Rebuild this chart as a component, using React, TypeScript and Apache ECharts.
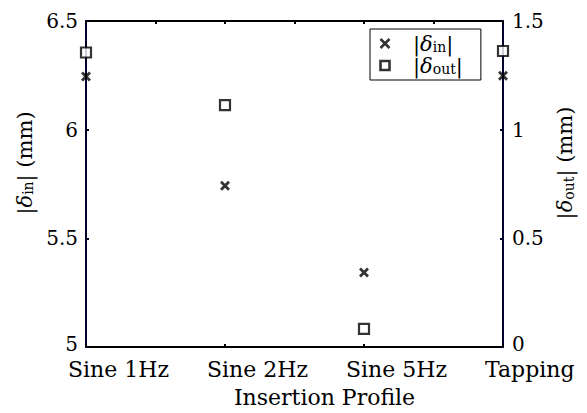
import React, { useEffect, useRef } from "react";
import * as echarts from "echarts";

const categories = ["Sine 1Hz", "Sine 2Hz", "Sine 5Hz", "Tapping"];
const deltaIn = [6.245, 5.742, 5.343, 6.248];
const deltaOut = [1.355, 1.113, 0.083, 1.362];
const leftTicks = { min: 5, max: 6.5, interval: 0.5 };
const rightTicks = { min: 0, max: 1.5, interval: 0.5 };

const FONT = "DejaVu Serif";
const NAVY = "#00002a";

const rich = {
  b: { fontFamily: FONT, fontSize: 21, lineHeight: 20, color: "#000" },
  d: { fontFamily: FONT, fontStyle: "italic", fontSize: 21, lineHeight: 20, color: "#000" },
  s: { fontFamily: FONT, fontSize: 14, lineHeight: 14, verticalAlign: "bottom", color: "#000" },
  t: { fontFamily: FONT, fontSize: 21, lineHeight: 20, color: "#000" },
};

const tickRich = {
  lo: { fontFamily: FONT, fontSize: 20, lineHeight: 14, color: "#000", padding: [0, 0, 7, 0] },
};

export default function App() {
  const ref = useRef<HTMLDivElement>(null);
  useEffect(() => {
    if (!ref.current) return;
    const chart = echarts.init(ref.current, null, { renderer: "svg" });
    const crossPath = "path://M0,0L10,10M0,10L10,0";
    const squarePath = "path://M0,0L10,0L10,10L0,10Z";
    const fmtLeft = (v: number) => (v === leftTicks.min ? `{lo|${v}}` : `${v}`);
    const fmtRight = (v: number) => (v === rightTicks.min ? `{lo|${v}}` : `${v}`);
    chart.setOption({
      animation: false,
      backgroundColor: "#fff",
      textStyle: { fontFamily: FONT },
      grid: [
        { left: 86, right: 84, top: 21, bottom: 64, containLabel: false },
        { left: 68, right: 102, top: 21, bottom: 64, containLabel: false },
      ],
      legend: {
        orient: "vertical",
        left: 370,
        top: 29,
        padding: [4, 18, 4, 8],
        itemGap: 1,
        itemWidth: 30,
        itemHeight: 9,
        borderColor: "#000",
        borderWidth: 1,
        backgroundColor: "#fff",
        itemStyle: { color: "none", borderColor: "#000", borderWidth: 2.6 },
        data: [
          { name: "in", icon: crossPath },
          { name: "out", icon: squarePath },
        ],
        formatter: (n: string) => `{b||}{d|δ}{s|${n}}{b||}`,
        textStyle: { fontFamily: FONT, fontSize: 20, color: "#000", padding: [0, 0, 0, 8], rich },
      },
      xAxis: [
        {
          type: "category",
          gridIndex: 0,
          data: categories,
          boundaryGap: false,
          position: "bottom",
          axisLine: { lineStyle: { color: "#000", width: 2 } },
          axisTick: { inside: true, length: 3, lineStyle: { color: "#000", width: 2 } },
          axisLabel: { show: false },
          splitLine: { show: false },
          name: "Insertion Profile",
          nameLocation: "middle",
          nameGap: 39,
          nameTextStyle: { fontFamily: FONT, fontSize: 22, color: "#000", padding: [0, 0, 0, 60] },
        },
        {
          type: "value",
          gridIndex: 0,
          position: "top",
          min: 0,
          max: 6,
          interval: 1,
          axisLine: { lineStyle: { color: "#000", width: 2 } },
          axisTick: { inside: true, length: 3, lineStyle: { color: "#000", width: 2 } },
          axisLabel: { show: false },
          splitLine: { show: false },
        },
        {
          type: "category",
          gridIndex: 1,
          data: categories,
          boundaryGap: false,
          position: "bottom",
          axisLine: { show: false },
          axisTick: { show: false },
          axisLabel: { interval: 0, align: "left", margin: 10, lineHeight: 20, fontFamily: FONT, fontSize: 22, color: "#000" },
          splitLine: { show: false },
        },
      ],
      yAxis: [
        {
          type: "value",
          gridIndex: 0,
          position: "left",
          ...leftTicks,
          axisLine: { show: true, lineStyle: { color: NAVY, width: 2 } },
          axisTick: { show: true, inside: true, length: 3, lineStyle: { color: NAVY, width: 2 } },
          axisLabel: { margin: 8, lineHeight: 14, fontFamily: FONT, fontSize: 20, color: "#000", formatter: fmtLeft, rich: tickRich },
          splitLine: { show: false },
          name: "{b||}{d|δ}{s|in}{b||} {t|(mm)}",
          nameLocation: "middle",
          nameRotate: 90,
          nameGap: 48,
          nameTextStyle: { fontFamily: FONT, fontSize: 21, color: "#000", padding: [0, 0, 0, 42], rich },
        },
        {
          type: "value",
          gridIndex: 0,
          position: "right",
          ...rightTicks,
          axisLine: { show: true, lineStyle: { color: NAVY, width: 2 } },
          axisTick: { show: true, inside: true, length: 3, lineStyle: { color: NAVY, width: 2 } },
          axisLabel: { margin: 9, lineHeight: 14, fontFamily: FONT, fontSize: 20, color: "#000", formatter: fmtRight, rich: tickRich },
          splitLine: { show: false },
          name: "{b||}{d|δ}{s|out}{b||} {t|(mm)}",
          nameLocation: "middle",
          nameRotate: 90,
          nameGap: 50,
          nameTextStyle: { fontFamily: FONT, fontSize: 21, color: "#000", padding: [0, 0, 0, 42], rich },
        },
        {
          type: "value",
          gridIndex: 1,
          min: 0,
          max: 1,
          show: false,
        },
      ],
      series: [
        {
          name: "in",
          type: "scatter",
          xAxisIndex: 0,
          yAxisIndex: 0,
          data: deltaIn,
          symbol: crossPath,
          symbolSize: 8,
          clip: false,
          itemStyle: { color: "none", borderColor: "#000", borderWidth: 2.8 },
          z: 5,
        },
        {
          name: "out",
          type: "scatter",
          xAxisIndex: 0,
          yAxisIndex: 1,
          data: deltaOut,
          symbol: "rect",
          symbolSize: 10,
          clip: false,
          itemStyle: { color: "#fff", borderColor: "#000", borderWidth: 2.2 },
          z: 5,
        },
      ],
    });
    return () => chart.dispose();
  }, []);
  return (
    <div
      ref={ref}
      style={{ position: "fixed", left: 0, top: 0, width: 587, height: 413 }}
    />
  );
}
